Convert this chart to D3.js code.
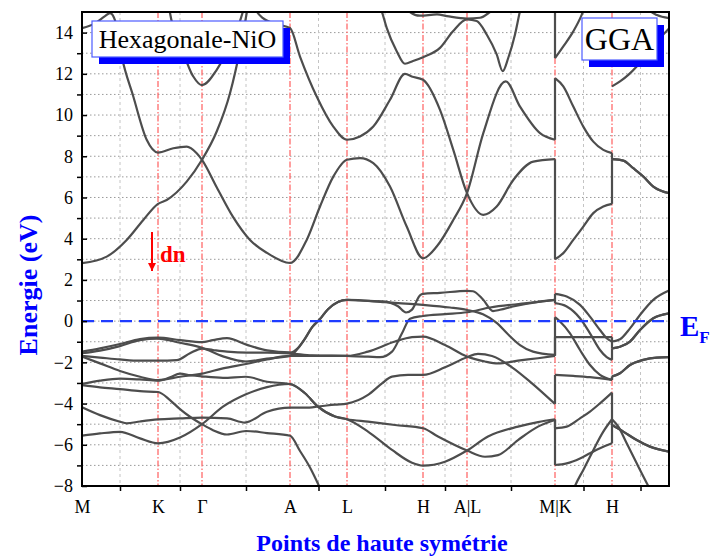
<!DOCTYPE html>
<html>
<head>
<meta charset="utf-8">
<script src="https://cdn.jsdelivr.net/npm/d3@7"></script>
<style>
  body { margin: 0; background: #fff; }
  svg, svg text { font-family: "Liberation Serif", "Times New Roman", serif; }
</style>
</head>
<body>
<div id="chart"></div>
<script>
// high-symmetry path (k = distance along path, arbitrary units)
const kLabels = ["M", "K", "Γ", "A", "L", "H", "A|L", "M|K", "H"];
const kPositions = [0, 76, 120, 208, 265, 341, 385, 473, 530];
const kEnd = 587;
const energyTicks = [-8, -6, -4, -2, 0, 2, 4, 6, 8, 10, 12, 14];
const energyMinor = [-7, -5, -3, -1, 1, 3, 5, 7, 9, 11, 13];
const fermiEnergy = 0;

// each band: list of path segments [k, E(eV)]; segments are joined by vertical steps
const bandA = [
  [[0,-1.48],[18,-1.32],[38,-1.11],[58,-0.87],[76,-0.8],[98,-0.92],[120,-1.02],[131,-0.92],[145,-0.82],[165,-1.15],[185,-1.42],[208,-1.52],[216,-1.3],[223,-0.85],[230,-0.3],[238,0.1],[246,0.58],[256,0.93],[265,1.03],[278,1.0],[303,0.95],[316,0.72],[324,0.42],[330,0.56],[338,1.25],[341,1.32],[358,1.37],[385,1.47],[391,1.45],[401,1.05],[411,0.49],[418,0.55],[431,0.71],[458,0.95],[473,1.03]],
  [[473,1.32],[484.7,1.19],[498,0.79],[508,0.22],[518,-0.43],[524.7,-0.83],[530,-0.99]],
  [[530,-0.99],[538,-0.88],[548,-0.35],[558,0.3],[571.3,1.03],[587,1.48]]
];
const bandB = [
  [[0,-1.56],[18,-1.43],[38,-1.21],[58,-0.92],[76,-0.85],[98,-1.05],[120,-1.29],[141,-1.71],[164,-1.96],[185,-1.82],[208,-1.69],[216,-1.32],[223,-0.85],[230,-0.3],[238,0.1],[246,0.58],[256,0.93],[265,1.03],[303,0.92],[341,0.79],[368,0.66],[385,0.54],[401,0.33],[415,-0.1],[425,-0.59],[438,-1.16],[451,-1.48],[473,-1.64]],
  [[473,0.19],[478,-0.02],[488,-0.59],[498,-1.4],[508,-2.13],[518,-2.61],[530,-2.85]],
  [[530,-2.69],[538,-2.53],[548,-2.13],[561.3,-1.88],[574.7,-1.77],[587,-1.75]]
];
const bandC = [
  [[0,-1.69],[18,-1.77],[38,-1.86],[58,-1.92],[76,-1.92],[94.7,-1.89],[108,-1.56],[120,-1.33],[131,-1.4],[145,-1.48],[165,-1.53],[185,-1.53],[208,-1.56],[230,-1.66],[265,-1.69],[286,-1.72],[298,-1.75],[310,-1.48],[320,-0.59],[328,0.12],[341,0.25],[363,0.34],[385,0.43],[408,0.66],[445,0.87],[473,1.03]],
  [[473,0.87],[484.7,0.71],[498,0.14],[508,-0.59],[518,-1.4],[524.7,-1.75],[530,-1.88]],
  [[530,-1.32],[538,-1.24],[548,-0.99],[558,-0.43],[571.3,0.14],[587,0.38]]
];
const bandD = [
  [[0,-1.72],[18,-2.05],[38,-2.42],[58,-2.7],[76,-2.86],[98,-2.7],[120,-2.55],[141,-2.29],[164,-2.08],[185,-1.86],[208,-1.69],[230,-1.69],[265,-1.69],[286,-1.48],[313,-0.99],[330,-0.78],[341,-0.75],[363,-1.16],[385,-1.72],[403,-1.96],[416,-2.05],[436,-1.92],[456,-1.8],[473,-1.69]],
  [[473,-0.78],[501,-0.78],[530,-0.78]],
  [[530,-1.32],[538,-1.24],[548,-0.99],[558,-0.43],[571.3,0.14],[587,0.38]]
];
const bandE = [
  [[0,-3.05],[18,-2.89],[38,-2.79],[58,-2.83],[76,-2.89],[88,-2.73],[98,-2.55],[108,-2.62],[120,-2.68],[141,-2.75],[164,-2.7],[185,-2.94],[208,-3.05],[223,-3.5],[236,-4.15],[253,-4.63],[265,-4.76],[286,-4.88],[313,-5.04],[341,-5.2],[356,-5.6],[385,-6.28],[403,-6.58],[416,-6.5],[436,-5.77],[456,-5.12],[473,-4.8]],
  [[473,-6.98],[484.7,-6.9],[498,-6.66],[508,-6.41],[518,-6.17],[530,-5.93]],
  [[530,-5.04],[541.3,-5.36],[554.7,-5.77],[568,-6.09],[587,-6.33]]
];
const bandF = [
  [[0,-3.1],[18,-3.21],[38,-3.3],[58,-3.4],[76,-3.44],[88,-3.83],[98,-4.27],[108,-4.64],[120,-5.0],[131,-5.29],[145,-5.5],[164,-5.33],[185,-5.43],[208,-5.56],[218,-6.3],[228,-7.1],[238,-8.1],[248,-9.2],[265,-10.2],[341,-10.8],[473,-10.5]],
  [[473,-10.5],[483,-9.5],[493,-8.0],[501.3,-7.22],[508,-6.58],[521.3,-5.36],[530,-4.76]],
  [[530,-4.76],[536.3,-5.12],[544.7,-5.93],[554.7,-6.9],[566.3,-8.0],[587,-9.8]]
];
const bandG = [
  [[0,-4.18],[18,-4.56],[38,-4.88],[44.7,-4.96],[58,-4.87],[76,-4.77],[98,-4.72],[120,-4.68],[145,-4.72],[163,-4.92],[185,-4.4],[208,-4.2],[223,-4.2],[238,-4.13],[253,-4.05],[265,-4.0],[286,-3.58],[300,-3.02],[310,-2.69],[326,-2.61],[341,-2.61],[363,-2.24],[385,-1.75],[396,-1.59],[410,-1.69],[430,-2.24],[450,-3.02],[473,-4.02]],
  [[473,-2.61],[491.3,-2.66],[508,-2.72],[530,-2.85]],
  [[530,-2.69],[538,-2.53],[548,-2.13],[561.3,-1.88],[574.7,-1.77],[587,-1.75]]
];
const bandH = [
  [[0,-5.56],[18,-5.45],[38,-5.37],[58,-5.69],[76,-5.93],[98,-5.65],[120,-5.0],[141,-4.15],[164,-3.55],[185,-3.2],[208,-3.05],[223,-3.5],[236,-4.15],[253,-4.63],[265,-4.76],[286,-5.36],[310,-6.25],[330,-6.87],[341,-7.01],[363,-6.82],[385,-6.28],[406,-5.6],[436,-5.12],[456,-4.9],[473,-4.76]],
  [[473,-5.2],[484.7,-5.12],[498,-4.72],[508,-4.39],[518,-3.99],[530,-3.47]],
  [[530,-5.04],[541.3,-5.36],[554.7,-5.77],[568,-6.09],[587,-6.33]]
];
const bandC1 = [
  [[0,2.81],[24.7,3.13],[44.7,3.94],[61.3,4.91],[76,5.69],[84.7,5.88],[104.7,6.77],[120,7.83],[134.7,9.2],[148,11.06],[158,13.17],[164.7,14.95],[170,16.6]]
];
const bandC2 = [
  [[0,14.22],[13,14.45],[23,14.8],[28,14.95],[33,14.6],[39.7,12.84],[51.3,10.9],[64.7,8.8],[76,8.18],[91.3,8.39],[104.7,8.47],[114.7,8.15],[120,7.83],[134.7,6.5],[151,5.06],[168,3.94],[185,3.31],[208,2.82],[224.7,3.94],[238,5.56],[251.3,7.01],[265,7.83],[278,7.91],[291.3,7.67],[308,6.53],[324.7,4.59],[341,3.05],[354.7,3.62],[371.3,4.91],[385,6.21],[401.3,9.12],[423.7,11.63],[438,10.41],[458,9.12],[473,8.8]],
  [[473,11.79],[481.3,11.39],[491.3,10.41],[501.3,9.44],[511.3,8.71],[521.3,8.31],[530,8.15]],
  [[530,7.86],[541.3,7.79],[551.3,7.42],[561.3,7.02],[571.3,6.53],[587,6.21]]
];
const bandC3 = [
  [[165,16.2],[175,15.0],[181,14.7],[195,14.4],[208,14.22],[218,12.84],[234.7,10.9],[251.3,9.44],[265,8.8],[278,8.96],[291.3,9.44],[308,10.74],[323,12.0],[329.7,11.87],[341,11.71],[358,10.25],[371.3,8.31],[385,6.21],[401.3,5.16],[414.7,5.56],[431.3,6.85],[451.3,7.74],[473,7.86]],
  [[473,3.0],[481.3,3.3],[491.3,3.94],[501.3,4.59],[511.3,5.24],[521.3,5.56],[530,5.69]],
  [[530,7.86],[541.3,7.79],[551.3,7.42],[561.3,7.02],[571.3,6.53],[587,6.21]]
];
const bandGamma = [
  [[86,16.5],[88,14.95],[98,13.49],[111.3,11.87],[120,11.45],[134.7,12.19],[151.3,13.81],[161.3,15.1],[165,16]]
];
const bandT1 = [
  [[265,17.5],[288,16.0],[299.7,15.04],[304.7,14.23],[314.7,13.1],[323,12.49],[331,12.62],[341,12.81],[358,13.26],[371,14.07],[385,14.64],[394.7,14.56],[404.7,13.91],[414.7,12.94],[420.7,12.13],[426.3,12.78],[433,13.91],[438,15.04],[448,16.5],[473,17.2]],
  [[473,12.76],[481.3,13.33],[491.3,14.06],[499.7,14.86],[508,16],[530,17]]
];
const bandT2 = [
  [[323,15.4],[328,15.0],[338,14.82],[355,14.88],[365,14.8],[385,14.68],[398,14.72],[408,15.0],[418,15.4]]
];
const bandT3 = [
  [[530,11.39],[538,11.63],[546.3,11.95],[554.7,12.36],[570,13.3],[587,14.2]]
];
const bandT4 = [
  [[562,15.4],[568,15.05],[575,14.85],[587,14.7]]
];

const bands = [bandA, bandB, bandC, bandD, bandE, bandF, bandG, bandH,
  bandC1, bandC2, bandC3, bandGamma, bandT1, bandT2, bandT3, bandT4];

const SERIF = "Liberation Serif, Times New Roman, serif";
const width = 716, height = 559;
const margin = { top: 12, right: 47, bottom: 73, left: 82 };

const svg = d3.select("#chart").append("svg")
  .attr("width", width).attr("height", height)
  .attr("font-family", SERIF);

const x = d3.scaleLinear().domain([0, kEnd]).range([margin.left, width - margin.right]);
const y = d3.scaleLinear().domain([-8, 15]).range([height - margin.bottom, margin.top]);

const defs = svg.append("defs");
defs.append("clipPath").attr("id", "plot-clip")
  .append("rect")
  .attr("x", x(0)).attr("y", y(15))
  .attr("width", x(kEnd) - x(0)).attr("height", y(-8) - y(15));

// midpoints of each path segment get the gray grid / ticks
const kStops = kPositions.concat([kEnd]);
const kMid = d3.pairs(kStops).map(([a, b]) => (a + b) / 2);

// grid
svg.append("g")
  .selectAll("line")
  .data(d3.range(-7, 15))
  .join("line")
  .attr("x1", x(0)).attr("x2", x(kEnd))
  .attr("y1", (d) => y(d)).attr("y2", (d) => y(d))
  .attr("stroke", "#9a9a9a").attr("stroke-width", 1)
  .attr("stroke-dasharray", "1.5,2.5");
svg.append("g")
  .selectAll("line")
  .data(kMid)
  .join("line")
  .attr("x1", (d) => x(d)).attr("x2", (d) => x(d))
  .attr("y1", y(15)).attr("y2", y(-8))
  .attr("stroke", "#c4c4c4").attr("stroke-width", 1)
  .attr("stroke-dasharray", "3,3");

// high-symmetry lines
svg.append("g")
  .selectAll("line")
  .data(kPositions.slice(1))
  .join("line")
  .attr("x1", (d) => x(d)).attr("x2", (d) => x(d))
  .attr("y1", y(15)).attr("y2", y(-8))
  .attr("stroke", "#ff6b6b").attr("stroke-width", 1.3)
  .attr("stroke-dasharray", "6,2,1.5,2");

// bands
const line = d3.line()
  .x((d) => x(d[0]))
  .y((d) => y(d[1]))
  .curve(d3.curveMonotoneX);

const bandLayer = svg.append("g").attr("clip-path", "url(#plot-clip)");
bands.forEach((band) => {
  band.forEach((seg, i) => {
    bandLayer.append("path")
      .attr("d", line(seg))
      .attr("fill", "none")
      .attr("stroke", "#4d4d4d")
      .attr("stroke-width", 2.2);
    if (i > 0) {
      const prev = band[i - 1][band[i - 1].length - 1];
      bandLayer.append("line")
        .attr("x1", x(prev[0])).attr("y1", y(prev[1]))
        .attr("x2", x(seg[0][0])).attr("y2", y(seg[0][1]))
        .attr("stroke", "#4d4d4d")
        .attr("stroke-width", 2.2);
    }
  });
});

// Fermi level
svg.append("line")
  .attr("x1", x(0)).attr("x2", x(kEnd))
  .attr("y1", y(fermiEnergy)).attr("y2", y(fermiEnergy))
  .attr("stroke", "#1f3cff").attr("stroke-width", 2.4)
  .attr("stroke-dasharray", "12,7");

// axes
const yMajor = svg.append("g")
  .attr("transform", `translate(${x(0)},0)`)
  .call(d3.axisLeft(y).tickValues(energyTicks).tickSize(-5).tickPadding(9));
const yMinor = svg.append("g")
  .attr("transform", `translate(${x(0)},0)`)
  .call(d3.axisLeft(y).tickValues(energyMinor).tickSize(5).tickFormat(""));
const xMinor = svg.append("g")
  .attr("transform", `translate(0,${y(-8)})`)
  .call(d3.axisBottom(x).tickValues(kMid).tickSize(5).tickFormat(""));
const xLabels = svg.append("g")
  .attr("transform", `translate(0,${y(-8)})`)
  .call(d3.axisBottom(x).tickValues(kPositions).tickSize(0).tickPadding(14)
    .tickFormat((d, i) => kLabels[i]));

[yMajor, yMinor, xMinor, xLabels].forEach((g) => {
  g.attr("font-family", SERIF).attr("font-size", 18);
  g.select(".domain").remove();
  g.selectAll("line").attr("stroke", "#000").attr("stroke-width", 1.5);
  g.selectAll("text")
    .attr("font-family", SERIF)
    .attr("font-size", 18)
    .attr("fill", "#000");
});

// frame
svg.append("rect")
  .attr("x", x(0)).attr("y", y(15))
  .attr("width", x(kEnd) - x(0)).attr("height", y(-8) - y(15))
  .attr("fill", "none").attr("stroke", "#000").attr("stroke-width", 2);

// axis titles
svg.append("text")
  .attr("transform", `translate(37,${(y(15) + y(-8)) / 2 + 36}) rotate(-90)`)
  .attr("text-anchor", "middle")
  .attr("font-family", SERIF)
  .attr("font-size", 26).attr("font-weight", "bold")
  .attr("fill", "#0000ff")
  .text("Energie (eV)");
svg.append("text")
  .attr("x", 382).attr("y", 551)
  .attr("text-anchor", "middle")
  .attr("font-family", SERIF)
  .attr("font-size", 24).attr("font-weight", "bold")
  .attr("fill", "#0000ff")
  .text("Points de haute symétrie");

// E_F label
const ef = svg.append("text")
  .attr("x", 680).attr("y", y(fermiEnergy) + 15)
  .attr("font-family", SERIF)
  .attr("font-size", 29).attr("font-weight", "bold")
  .attr("fill", "#0000ff");
ef.append("tspan").text("E");
ef.append("tspan").attr("font-size", 17).attr("dy", 7).text("F");

// spin channel marker
defs.append("marker")
  .attr("id", "arrow-red")
  .attr("viewBox", "0 0 10 10")
  .attr("refX", 10).attr("refY", 5)
  .attr("markerWidth", 8).attr("markerHeight", 8)
  .attr("markerUnits", "userSpaceOnUse")
  .attr("orient", "auto")
  .append("path").attr("d", "M0,0 L10,5 L0,10 Z").attr("fill", "#ff0000");
svg.append("line")
  .attr("x1", 152).attr("y1", 232).attr("x2", 152).attr("y2", 271)
  .attr("stroke", "#ff0000").attr("stroke-width", 2)
  .attr("marker-end", "url(#arrow-red)");
svg.append("text")
  .attr("x", 160).attr("y", 262)
  .attr("font-family", SERIF)
  .attr("font-size", 23).attr("font-weight", "bold")
  .attr("fill", "#ff0000")
  .text("dn");

// framed labels with blue shadow
function labelBox(bx, by, bw, bh, txt, size) {
  svg.append("rect")
    .attr("x", bx + 7).attr("y", by + 7).attr("width", bw).attr("height", bh)
    .attr("fill", "#0000ff");
  svg.append("rect")
    .attr("x", bx).attr("y", by).attr("width", bw).attr("height", bh)
    .attr("fill", "#fff").attr("stroke", "#4d5cff").attr("stroke-width", 1.2);
  svg.append("text")
    .attr("x", bx + bw / 2).attr("y", by + bh / 2)
    .attr("dy", "0.35em")
    .attr("text-anchor", "middle")
    .attr("font-family", SERIF)
    .attr("font-size", size)
    .attr("fill", "#000")
    .text(txt);
}
labelBox(92, 21, 191, 36, "Hexagonale-NiO", 26);
labelBox(582, 18, 75, 42, "GGA", 32);
</script>
</body>
</html>
